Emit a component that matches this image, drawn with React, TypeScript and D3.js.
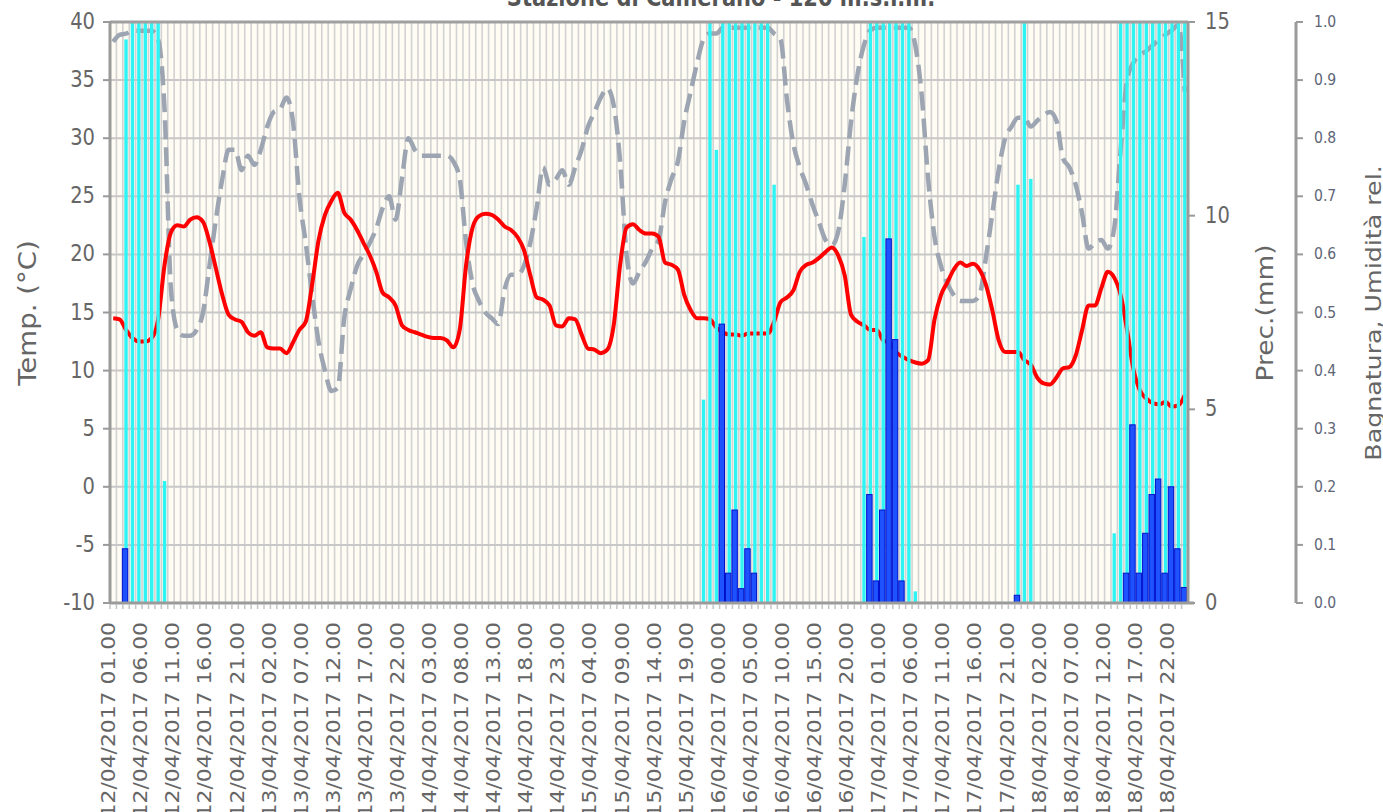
import React from 'react';
import * as d3 from 'd3';

// ---------- DATA ----------
// hourly categories: 12/04/2017 01.00 ... 19/04/2017 00.00
const categories: string[] = [];
for (let i = 0; i < 168; i++) {
  const t = 1 + i;
  const day = 12 + Math.floor(t / 24);
  const hh = t % 24;
  categories.push(`${day}/04/2017 ${String(hh).padStart(2, '0')}.00`);
}

const temperature = [
  14.5, 14.4, 13.5, 12.8, 12.5, 12.5, 12.8, 14.4, 19.1, 21.9, 22.5, 22.4, 23.0, 23.2, 22.8, 21.1,
  18.8, 16.5, 14.8, 14.4, 14.2, 13.3, 13.0, 13.3, 12.0, 11.9, 11.9, 11.5, 12.4, 13.5, 14.2, 17.4,
  21.2, 23.4, 24.6, 25.3, 23.6, 23.0, 22.1, 21.0, 19.9, 18.5, 16.7, 16.3, 15.6, 13.9, 13.5, 13.3,
  13.1, 12.9, 12.8, 12.8, 12.6, 12.0, 13.5, 19.1, 22.3, 23.3, 23.5, 23.4, 23.0, 22.4, 22.1, 21.5,
  20.4, 18.2, 16.3, 16.1, 15.6, 13.9, 13.8, 14.5, 14.4, 13.1, 11.9, 11.8, 11.5, 11.8, 13.9, 19.1,
  22.3, 22.6, 22.1, 21.8, 21.8, 21.5, 19.3, 19.1, 18.7, 16.5, 15.2, 14.5, 14.5, 14.4, 13.7, 13.3,
  13.1, 13.1, 13.0, 13.2, 13.2, 13.2, 13.2, 14.2, 15.9, 16.3, 16.9, 18.5, 19.1, 19.3, 19.7, 20.2,
  20.6, 19.9, 18.2, 14.8, 14.2, 13.9, 13.5, 13.5, 12.6, 12.4, 11.6, 11.2, 10.9, 10.7, 10.6, 10.9,
  14.4, 16.5, 17.6, 18.7, 19.3, 19.0, 19.2, 18.7, 17.4, 15.2, 12.6, 11.6, 11.6, 11.6, 10.9, 10.5,
  9.4, 8.9, 8.8, 9.4, 10.2, 10.3, 11.3, 13.5, 15.6, 15.6, 17.1, 18.5, 18.0, 16.5, 13.5, 10.1,
  8.3, 7.6, 7.2, 7.1, 7.3, 6.9, 7.0, 7.9,
];

const humidity = [
  0.966, 0.978, 0.98, 0.985, 0.985, 0.985, 0.985, 0.97, 0.85, 0.54, 0.47, 0.46, 0.46, 0.47, 0.5, 0.58,
  0.66, 0.73, 0.78, 0.78, 0.745, 0.77, 0.754, 0.78, 0.82, 0.845, 0.85, 0.87, 0.83, 0.7, 0.62, 0.53,
  0.45, 0.4, 0.365, 0.37, 0.49, 0.54, 0.58, 0.6, 0.62, 0.645, 0.68, 0.7, 0.66, 0.73, 0.8, 0.78,
  0.77, 0.77, 0.77, 0.77, 0.77, 0.76, 0.73, 0.62, 0.55, 0.52, 0.5, 0.49, 0.48, 0.54, 0.565, 0.565,
  0.58, 0.62, 0.68, 0.75, 0.72, 0.73, 0.745, 0.72, 0.75, 0.78, 0.82, 0.845, 0.87, 0.886, 0.857, 0.76,
  0.6, 0.55, 0.57, 0.587, 0.61, 0.625, 0.69, 0.73, 0.76, 0.83, 0.88, 0.93, 0.97, 0.98, 0.98, 0.99,
  0.99, 0.99, 0.99, 0.99, 0.99, 0.99, 0.99, 0.98, 0.97, 0.866, 0.79, 0.75, 0.72, 0.685, 0.655, 0.625,
  0.616, 0.64, 0.72, 0.83, 0.91, 0.96, 0.986, 0.99, 0.99, 0.99, 0.99, 0.99, 0.99, 0.96, 0.874, 0.73,
  0.63, 0.58, 0.55, 0.53, 0.52, 0.52, 0.52, 0.53, 0.594, 0.67, 0.745, 0.8, 0.82, 0.835, 0.835, 0.82,
  0.83, 0.84, 0.845, 0.83, 0.766, 0.75, 0.72, 0.67, 0.61, 0.62, 0.625, 0.61, 0.645, 0.78, 0.9, 0.93,
  0.943, 0.95, 0.96, 0.97, 0.978, 0.986, 0.995, 0.88,
];

// leaf wetness (0-1), only hours that are not zero
const wetHours = [2, 3, 4, 5, 6, 7, 8, 92, 93, 94, 95, 96, 97, 98, 99, 100, 101, 102, 103,
  117, 118, 119, 120, 121, 122, 123, 124, 125, 141, 142, 143,
  156, 157, 158, 159, 160, 161, 162, 163, 164, 165, 166, 167];
const wetValues = [0.97, 1, 1, 1, 1, 1, 0.21, 0.35, 1, 0.78, 1, 1, 1, 1, 1, 1, 1, 1, 0.72,
  0.63, 1, 1, 1, 1, 1, 1, 1, 0.02, 0.72, 1, 0.73,
  0.12, 1, 1, 1, 1, 1, 1, 1, 1, 1, 1, 1];

// precipitation (mm), only hours that are not zero
const precHours = [2, 95, 96, 97, 98, 99, 100, 118, 119, 120, 121, 122, 123, 141,
  158, 159, 160, 161, 162, 163, 164, 165, 166, 167];
const precValues = [1.4, 7.2, 0.77, 2.4, 0.37, 1.4, 0.77, 2.8, 0.57, 2.4, 9.4, 6.8, 0.57, 0.2,
  0.77, 4.6, 0.77, 1.8, 2.8, 3.2, 0.77, 3.0, 1.4, 0.4];

const tempTicks = [-10, -5, 0, 5, 10, 15, 20, 25, 30, 35, 40];
const precTicks = [0, 5, 10, 15];
const relTicks = [0, 0.1, 0.2, 0.3, 0.4, 0.5, 0.6, 0.7, 0.8, 0.9, 1.0];

const title = 'Stazione di Camerano - 120 m.s.l.m.';

// ---------- LAYOUT ----------
const W = 1383;
const H = 812;
const L = 110, R = 1188, T = 22, B = 603;
const AX3 = 1296;
const SY = 1.15; // vertical stretch of the text
const FONT = '"DejaVu Sans", Verdana, sans-serif';
const TXT = '#666666';

function HText({ x, y, size, anchor = 'start', fill = TXT, weight = 'normal', children }: any) {
  return (
    <text transform={`translate(${x},${y}) scale(1,${SY})`} fontSize={size} textAnchor={anchor}
      fill={fill} fontWeight={weight} fontFamily={FONT}>{children}</text>
  );
}
function VText({ x, y, size, anchor = 'middle', fill = TXT, children }: any) {
  return (
    <text transform={`translate(${x},${y}) rotate(-90) scale(${SY},1)`} fontSize={size} textAnchor={anchor}
      fill={fill} fontFamily={FONT}>{children}</text>
  );
}

export default function App() {
  const idx = d3.range(categories.length);
  const x = d3.scaleBand<number>().domain(idx).range([L, R]).padding(0);
  const bw = x.bandwidth();
  const cx = (i: number) => (x(i) as number) + bw / 2;
  const yT = d3.scaleLinear().domain([-10, 40]).range([B, T]);
  const yP = d3.scaleLinear().domain([0, 15]).range([B, T]);
  const yR = d3.scaleLinear().domain([0, 1]).range([B, T]);

  const tempLine = d3.line<number>().x((_, i) => cx(i)).y((d) => yT(d)).curve(d3.curveMonotoneX)(temperature) as string;
  const humLine = d3.line<number>().x((_, i) => cx(i)).y((d) => yR(d)).curve(d3.curveMonotoneX)(humidity) as string;

  return (
    <svg width={W} height={H} style={{ position: 'absolute', left: 0, top: 0, background: '#fff' }}>
      <defs>
        <clipPath id="plot">
          <rect x={L} y={T} width={R - L} height={B - T} />
        </clipPath>
      </defs>
      <HText x={721} y={6} size={21} anchor="middle" weight="bold" fill="#555">{title}</HText>

      {/* plot background */}
      <rect x={L} y={T} width={R - L} height={B - T} fill="#fefcf3" />
      {/* vertical grid */}
      {idx.map((i) => (
        <line key={'vg' + i} x1={x(i)} x2={x(i)} y1={T} y2={B} stroke="#d2d2d2" strokeWidth={1.6} />
      ))}
      {/* horizontal grid */}
      {tempTicks.map((t) => (
        <line key={'hg' + t} x1={L} x2={R} y1={yT(t)} y2={yT(t)} stroke="#c8c8c8" strokeWidth={2} />
      ))}

      {/* lines */}
      <g clipPath="url(#plot)">
        <path d={humLine} fill="none" stroke="#9ca5b1" strokeWidth={4.5} strokeDasharray="19 8" />
        <path d={tempLine} fill="none" stroke="#ff0000" strokeWidth={4} />
      </g>

      {/* wetness bars */}
      {wetHours.map((h, k) => (
        <rect key={'w' + h} x={cx(h) - 1.7} width={3.4} y={yR(wetValues[k])} height={B - yR(wetValues[k])} fill="#2ef4f4" />
      ))}
      {/* precipitation bars */}
      {precHours.map((h, k) => (
        <rect key={'p' + h} x={(x(h) as number) - 0.5} width={bw - 1} y={yP(precValues[k])}
          height={B - yP(precValues[k])} fill="#1f52ff" stroke="#0010cc" strokeWidth={1} />
      ))}

      {/* frame / axes */}
      <line x1={L} x2={R} y1={T} y2={T} stroke="#a0a0a0" strokeWidth={3} />
      <line x1={L} x2={L} y1={T - 1} y2={B + 1} stroke="#9a9a9a" strokeWidth={3} />
      <line x1={R} x2={R} y1={T - 1} y2={B + 1} stroke="#9a9a9a" strokeWidth={3} />
      <line x1={L} x2={R + 6} y1={B} y2={B} stroke="#9a9a9a" strokeWidth={3} />
      {/* bottom ticks */}
      {idx.map((i) => (
        <line key={'bt' + i} x1={x(i)} x2={x(i)} y1={B + 1} y2={B + 6} stroke="#c4c4c4" strokeWidth={1.5} />
      ))}

      {/* left axis */}
      {tempTicks.map((t) => (
        <g key={'lt' + t}>
          <line x1={L - 7} x2={L} y1={yT(t)} y2={yT(t)} stroke="#9a9a9a" strokeWidth={2} />
          <HText x={95} y={yT(t) + 7} size={19.5} anchor="end">{t}</HText>
        </g>
      ))}
      <VText x={36} y={313} size={24}>Temp. (°C)</VText>

      {/* right axis (precipitation) */}
      {precTicks.map((t) => (
        <g key={'rt' + t}>
          <line x1={R} x2={R + 7} y1={yP(t)} y2={yP(t)} stroke="#9a9a9a" strokeWidth={2} />
          <HText x={1205} y={yP(t) + 7} size={19.5} anchor="start">{t}</HText>
        </g>
      ))}
      <VText x={1273} y={313} size={23}>Prec.(mm)</VText>

      {/* third axis (wetness / relative humidity) */}
      <line x1={AX3} x2={AX3} y1={T} y2={B} stroke="#9a9a9a" strokeWidth={3} />
      {relTicks.map((t) => (
        <g key={'r3' + t}>
          <line x1={AX3} x2={AX3 + 7} y1={yR(t)} y2={yR(t)} stroke="#9a9a9a" strokeWidth={2} />
          <HText x={1314} y={yR(t) + 5} size={14} anchor="start" fill="#5d6577">{t.toFixed(1)}</HText>
        </g>
      ))}
      <VText x={1381} y={313} size={22}>Bagnatura, Umidità rel.</VText>

      {/* x labels */}
      {idx.filter((i) => i % 5 === 0).map((i) => (
        <VText key={'xl' + i} x={cx(i) + 2} y={622} size={19} anchor="end">{categories[i]}</VText>
      ))}
    </svg>
  );
}
